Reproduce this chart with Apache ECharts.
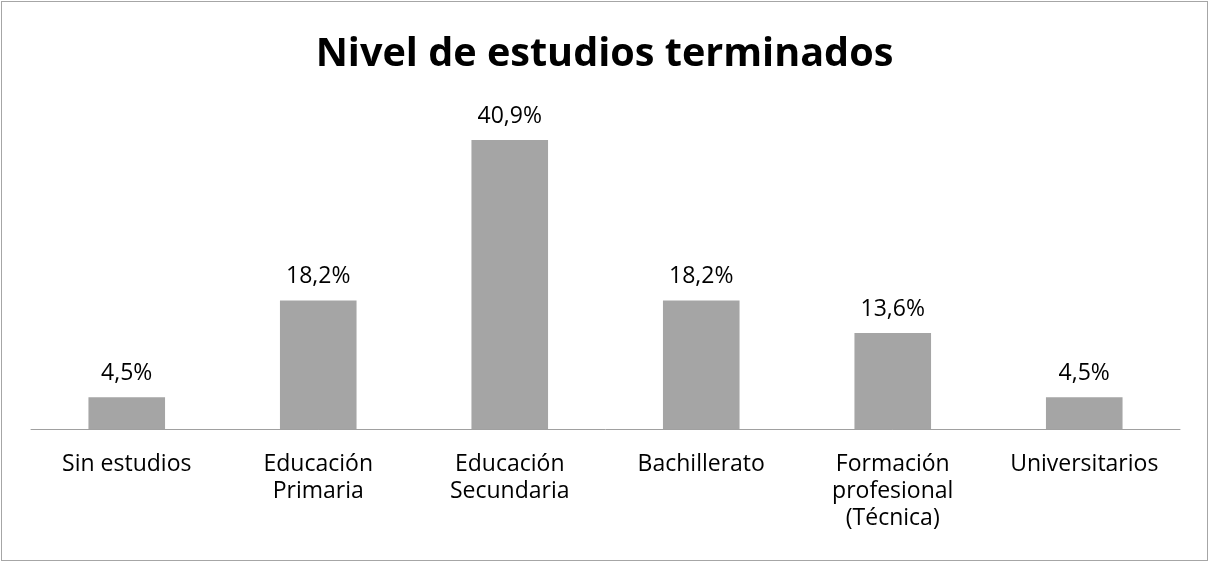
<!DOCTYPE html>
<html>
<head>
<meta charset="utf-8">
<script src="https://cdn.jsdelivr.net/npm/echarts@6/dist/echarts.min.js"></script>
<style>
html,body{margin:0;padding:0;background:#fff;}
#frame{position:absolute;left:1px;top:1px;width:1205px;height:558px;border:1px solid #a6a6a6;}
#chart{position:absolute;left:0;top:0;width:1209px;height:562px;}
</style>
</head>
<body>
<div id="frame"></div>
<div id="chart"></div>
<script>
const titleText = 'Nivel de estudios terminados';
const categories = ['Sin estudios', 'Educación\nPrimaria', 'Educación\nSecundaria', 'Bachillerato', 'Formación\nprofesional\n(Técnica)', 'Universitarios'];
const values = [4.5, 18.2, 40.9, 18.2, 13.6, 4.5];

const FONT = '"Open Sans", sans-serif';
const chart = echarts.init(document.getElementById('chart'), null, {renderer: 'canvas'});
chart.setOption({
  animation: false,
  title: {
    text: titleText,
    left: 'center',
    top: 30,
    textStyle: {fontFamily: FONT, fontWeight: 'bold', fontSize: 39.6, color: '#000'}
  },
  grid: {left: 31, right: 29, top: 111, bottom: 133, containLabel: false},
  xAxis: {
    type: 'category',
    data: categories,
    axisLine: {show: true, lineStyle: {color: '#a0a0a0', width: 1}},
    axisTick: {show: false},
    axisLabel: {
      interval: 0,
      margin: 22,
      fontFamily: FONT,
      fontSize: 23,
      lineHeight: 27,
      color: '#000'
    }
  },
  yAxis: {
    type: 'value',
    min: 0,
    max: 45,
    show: false,
    splitLine: {show: false}
  },
  series: [{
    type: 'bar',
    data: values,
    barWidth: '40%',
    itemStyle: {color: '#a5a5a5'},
    label: {
      show: true,
      position: 'top',
      distance: 12,
      fontFamily: FONT,
      fontSize: 23,
      color: '#000',
      formatter: p => p.value.toFixed(1).replace('.', ',') + '%'
    }
  }]
});
</script>
</body>
</html>
